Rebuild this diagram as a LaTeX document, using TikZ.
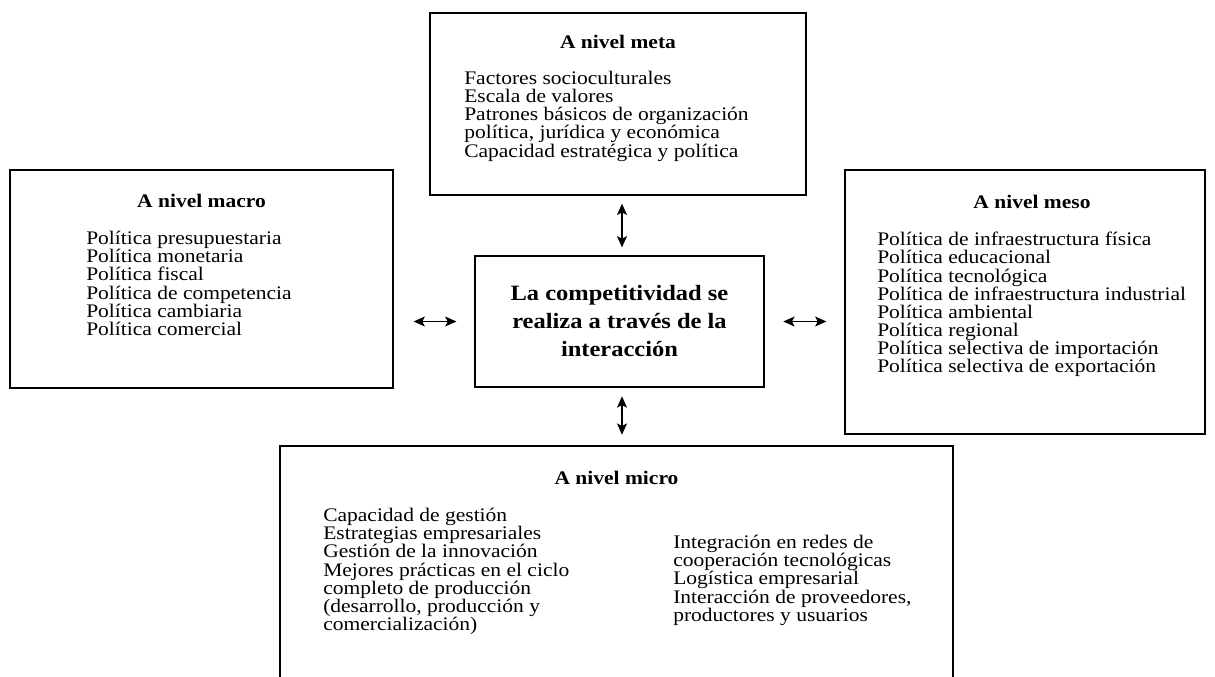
\documentclass[tikz,border=0pt]{standalone}
\usepackage{fontspec}
\setmainfont{Liberation Serif}[FakeStretch=1.12]
\usetikzlibrary{arrows.meta}

\begin{document}
\begin{tikzpicture}[x=0.75pt,y=-0.75pt,
		box/.style={draw,line width=0.9pt,inner sep=0pt},
		ttl/.style={font=\fontsize{14.4}{13.6}\selectfont\bfseries,anchor=base,inner sep=0pt},
		lst/.style={font=\fontsize{14.4}{13.6}\selectfont,align=left,anchor=north west,inner sep=0pt},
		twoway/.style={{Stealth[length=8.5pt,width=7.5pt,inset=2pt]}-{Stealth[length=8.5pt,width=7.5pt,inset=2pt]},line width=0.9pt}]
		\useasboundingbox (0,0) rectangle (1215,676);

		% the five boxes
		\node[box,minimum width=282pt,minimum height=136.5pt] (meta) at (618,104) {};
		\node[box,minimum width=287.25pt,minimum height=163.5pt] (macro) at (201.5,279) {};
		\node[box,minimum width=270pt,minimum height=198pt] (meso) at (1025,302) {};
		\node[box,minimum width=504.75pt,minimum height=190.5pt] (micro) at (616.5,573) {};
		\node[box,minimum width=216.75pt,minimum height=98.25pt,align=center,
			font=\fontsize{16.4}{21}\selectfont\bfseries] (ctr) at (619.5,321.5)
			{La competitividad se\\ realiza a través de la\\ interacción};

		% titles and lists
		\node[ttl] (metattl) at (618,48) {A nivel meta};
		\node[lst] (metalst) at (464,71) {Factores socioculturales\\ Escala de valores\\
			Patrones básicos de organización\\ política, jurídica y económica\\
			Capacidad estratégica y política};

		\node[ttl] (macrottl) at (201.5,207) {A nivel macro};
		\node[lst] (macrolst) at (86,231) {Política presupuestaria\\ Política monetaria\\
			Política fiscal\\ Política de competencia\\ Política cambiaria\\ Política comercial};

		\node[ttl] (mesottl) at (1032,208) {A nivel meso};
		\node[lst] (mesolst) at (877,232) {Política de infraestructura física\\
			Política educacional\\ Política tecnológica\\
			Política de infraestructura industrial\\ Política ambiental\\
			Política regional\\ Política selectiva de importación\\
			Política selectiva de exportación};

		\node[ttl] (microttl) at (616.5,484) {A nivel micro};
		\node[lst] (microlsta) at (323,508) {Capacidad de gestión\\ Estrategias empresariales\\
			Gestión de la innovación\\ Mejores prácticas en el ciclo\\
			completo de producción\\ (desarrollo, producción y\\ comercialización)};
		\node[lst] (microlstb) at (673,535) {Integración en redes de\\
			cooperación tecnológicas\\ Logística empresarial\\
			Interacción de proveedores,\\ productores y usuarios};

		% arrows between the levels
		\draw[twoway,shorten <=6pt,shorten >=6.5pt] (ctr.north -| 622,0) -- (622,195);
		\draw[twoway,shorten <=7pt,shorten >=8pt] (622,387) -- (micro.north -| 622,0);
		\draw[twoway,shorten <=13.5pt,shorten >=15pt] (ctr.west) -- (ctr.west -| macro.east);
		\draw[twoway,shorten <=14pt,shorten >=13.5pt] (ctr.east) -- (ctr.east -| meso.west);
	\end{tikzpicture}
\end{document}
